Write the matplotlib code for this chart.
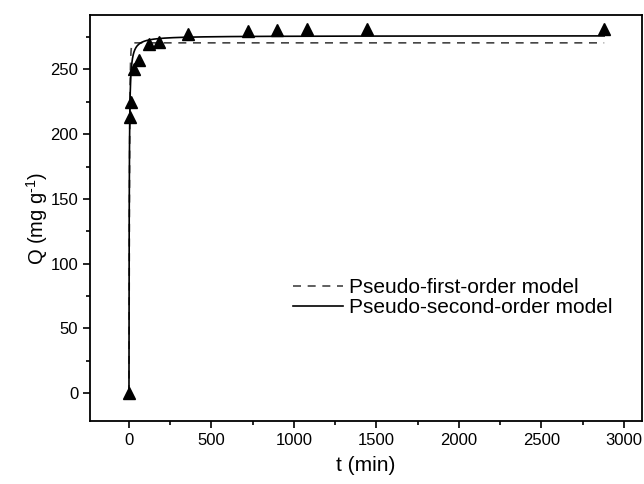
import numpy as np
import matplotlib
matplotlib.use("Agg")
import matplotlib.pyplot as plt
from matplotlib.ticker import MultipleLocator

plt.rcParams['font.family'] = ['Liberation Sans', 'DejaVu Sans']
plt.rcParams['mathtext.fontset'] = 'custom'
plt.rcParams['mathtext.rm'] = 'Liberation Sans'
plt.rcParams['mathtext.it'] = 'Liberation Sans'
plt.rcParams['mathtext.bf'] = 'Liberation Sans'

# experimental data
t_exp = [0, 5, 10, 30, 60, 120, 180, 360, 720, 900, 1080, 1440, 2880]
q_exp = [0, 213, 225, 250, 257, 270, 271, 277.5, 279.5, 280.5, 281, 281, 281]

# fitted model parameters
pfo_params = [270.5, 0.30]     # qe, k1
pso_params = [276.0, 0.0025]   # qe, k2
legend_labels = ['Pseudo-first-order model', 'Pseudo-second-order model']

t_fit = np.concatenate([np.linspace(0, 50, 501), np.linspace(50, 2880, 600)])
qe1, k1 = pfo_params
q_pfo = qe1 * (1 - np.exp(-k1 * t_fit))
qe2, k2 = pso_params
q_pso = qe2**2 * k2 * t_fit / (1 + qe2 * k2 * t_fit)

fig = plt.figure(figsize=(6.44, 4.84), dpi=100)
ax = fig.add_axes([0.1398, 0.130, 0.857, 0.839])

ax.plot(t_fit, q_pfo, linestyle=(0, (4.8, 4.0)), color='#444444', lw=1.2,
        label=legend_labels[0])
ax.plot(t_fit, q_pso, linestyle='-', color='black', lw=1.2,
        label=legend_labels[1])
ax.plot(t_exp, q_exp, linestyle='none', marker='^', color='black',
        markersize=8.5)

ax.set_xlim(-236, 3109)
ax.set_ylim(-21.5, 292)
ax.xaxis.set_major_locator(MultipleLocator(500))
ax.xaxis.set_minor_locator(MultipleLocator(250))
ax.yaxis.set_major_locator(MultipleLocator(50))
ax.yaxis.set_minor_locator(MultipleLocator(25))
ax.tick_params(which='both', direction='out', top=False, right=False,
               labelsize=12, width=1.2)
ax.tick_params(which='major', length=5)
ax.tick_params(which='minor', length=3)
for s in ax.spines.values():
    s.set_linewidth(1.3)

ax.set_xlabel('t (min)', fontsize=15, labelpad=6)
ax.set_ylabel('Q (mg g$^{\u2010\\mathrm{1}}$)', fontsize=14.5, labelpad=0)

ax.legend(loc='center left', bbox_to_anchor=(0.368, 0.304), frameon=False,
          fontsize=15, handlelength=2.4, handletextpad=0.3,
          labelspacing=0.05, borderpad=0, borderaxespad=0)

fig.savefig('out.png', dpi=100)
